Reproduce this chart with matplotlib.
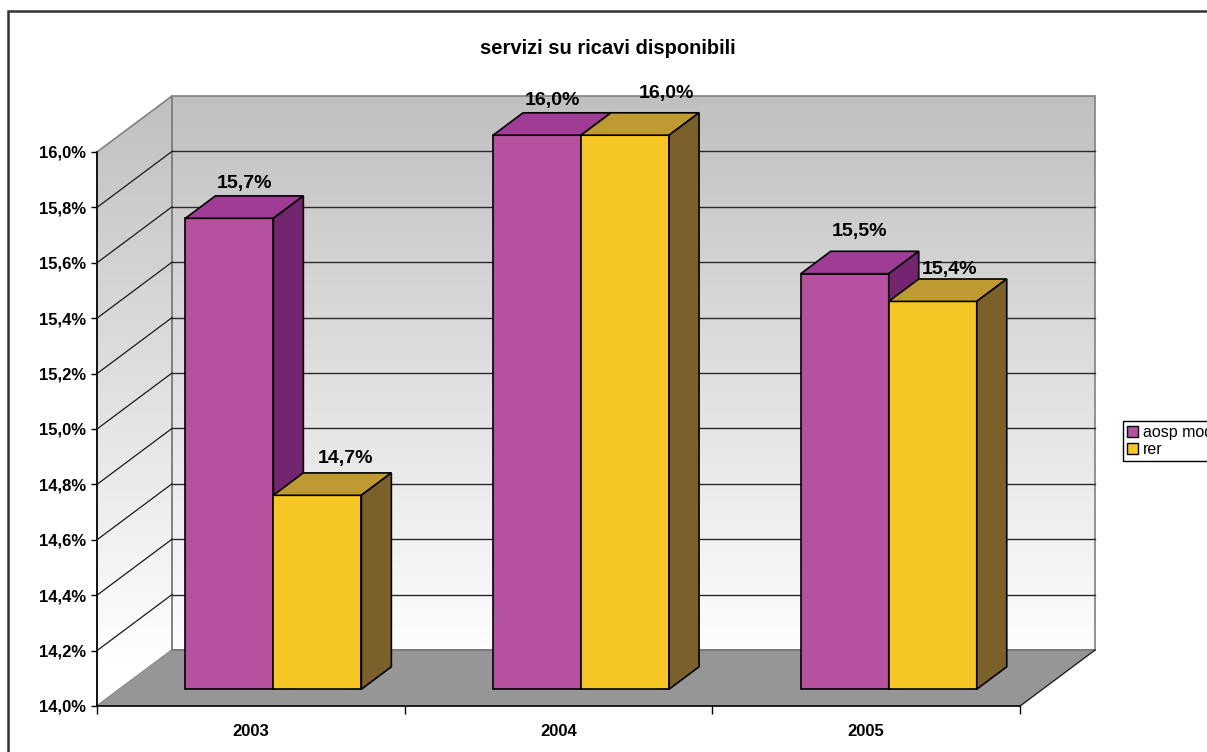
import matplotlib
matplotlib.use("Agg")
import matplotlib.pyplot as plt
import numpy as np
from matplotlib.patches import Polygon, Rectangle, Patch
from matplotlib.colors import LinearSegmentedColormap

plt.rcParams['font.family'] = ['Liberation Sans', 'DejaVu Sans']

# data
YEARS = ["2003", "2004", "2005"]
SERIES = ["aosp modena", "rer"]
AOSP = [15.7, 16.0, 15.5]
RER = [14.7, 16.0, 15.4]
YMIN, YMAX, YSTEP = 14.0, 16.0, 0.2

# pixel geometry -> data units
W_PX, H_PX = 1207, 752
X0_PX, CAT_PX = 97, 307.7          # front plane: category 0 starts at x=97px
Y0_PX, PCT_PX = 706, 277.0         # 14.0% at y=706px, 277 px per 1%
DX = 75 / CAT_PX                   # depth offset in x
DY = 56 / PCT_PX                   # depth offset in y
BW = 88 / CAT_PX                   # bar width
F0, F1 = 0.3, 0.7                  # bar depth span
PXX = 1 / CAT_PX
PXY = 1 / PCT_PX

fig = plt.figure(figsize=(W_PX / 100, H_PX / 100), dpi=100)
ax = fig.add_axes([0, 0, 1, 1])
ax.set_xlim(-X0_PX / CAT_PX, (W_PX - X0_PX) / CAT_PX)
ax.set_ylim(YMIN - (H_PX - Y0_PX) / PCT_PX, YMIN + Y0_PX / PCT_PX)
ax.patch.set_visible(False)
ncat = len(YEARS)

# walls with vertical gradient
cmap = LinearSegmentedColormap.from_list("wall", ["#ffffff", "#c0c0c0"])
grad = np.linspace(0, 1, 256).reshape(-1, 1)
back = Polygon([(DX, YMIN + DY), (ncat + DX, YMIN + DY), (ncat + DX, YMAX + DY), (DX, YMAX + DY)],
               closed=True, facecolor="none", edgecolor="#808080", lw=1.2, zorder=2)
side = Polygon([(0, YMIN), (DX, YMIN + DY), (DX, YMAX + DY), (0, YMAX)],
               closed=True, facecolor="none", edgecolor="#808080", lw=1.2, zorder=2)
for poly in (back, side):
    ax.add_patch(poly)
    im = ax.imshow(grad, cmap=cmap, origin="lower", aspect="auto",
                   extent=[0, ncat + DX, YMIN + 0.15, YMAX + DY], zorder=1)
    im.set_clip_path(poly)

# gridlines
levels = np.round(np.arange(YMIN + YSTEP, YMAX + 1e-9, YSTEP), 1)
for v in levels[:-1]:
    ax.plot([DX, ncat + DX], [v + DY, v + DY], color="#2a2a2a", lw=1.0, zorder=3)
    ax.plot([0, DX], [v, v + DY], color="#1a1a1a", lw=0.9, zorder=3)

# floor
floor = Polygon([(0, YMIN), (ncat, YMIN), (ncat + DX, YMIN + DY), (DX, YMIN + DY)],
                closed=True, facecolor="#969696", edgecolor="none", zorder=4)
ax.add_patch(floor)
ax.plot([DX, ncat + DX], [YMIN + DY, YMIN + DY], color="#777777", lw=1.2, zorder=4)
ax.plot([ncat, ncat + DX], [YMIN, YMIN + DY], color="#222222", lw=1.0, zorder=4)

# bars
COLORS = [("#b5519f", "#a03c96", "#73256f"), ("#f5c624", "#bf9a31", "#7b6129")]
LABEL_NUDGE = [[(0, 0), (13, 2)], [(0, 0), (26, 7)], [(0, 8), (2, -3)]]
z = 10
for i in range(ncat):
    for s, vals in enumerate([AOSP, RER]):
        v = vals[i]
        front, top, sidec = COLORS[s]
        xl = i + 0.5 - BW + s * BW
        ax.bar(xl + F0 * DX, v - YMIN, bottom=YMIN + F0 * DY, width=BW, align="edge",
               color=front, edgecolor="black", linewidth=1.2, zorder=z)
        xr = xl + BW
        ax.add_patch(Polygon([(xl + F0 * DX, v + F0 * DY), (xr + F0 * DX, v + F0 * DY),
                              (xr + F1 * DX, v + F1 * DY), (xl + F1 * DX, v + F1 * DY)],
                             closed=True, facecolor=top, edgecolor="black", lw=1.2, zorder=z + 1))
        ax.add_patch(Polygon([(xr + F0 * DX, YMIN + F0 * DY), (xr + F1 * DX, YMIN + F1 * DY),
                              (xr + F1 * DX, v + F1 * DY), (xr + F0 * DX, v + F0 * DY)],
                             closed=True, facecolor=sidec, edgecolor="black", lw=1.2, zorder=z + 1))
        ndx, ndy = LABEL_NUDGE[i][s]
        ax.text(xl + BW / 2 + 0.5 * DX + ndx * PXX, v + F1 * DY + (12 + ndy) * PXY,
                f"{v:.1f}%".replace(".", ","), ha="center", va="center",
                fontsize=14, fontweight="bold", zorder=50)
        z += 3

# axes via spines
for sp in ("top", "right"):
    ax.spines[sp].set_visible(False)
ax.spines["left"].set_position(("data", 0))
ax.spines["left"].set_bounds(YMIN, YMAX)
ax.spines["bottom"].set_position(("data", YMIN))
ax.spines["bottom"].set_bounds(0, ncat)
for sp in ("left", "bottom"):
    ax.spines[sp].set_color("black")
    ax.spines[sp].set_linewidth(1.2)
    ax.spines[sp].set_zorder(5)

yt = np.round(np.arange(YMIN, YMAX + 1e-9, YSTEP), 1)
ax.set_yticks(yt)
ax.set_yticklabels([f"{v:.1f}%".replace(".", ",") for v in yt], fontsize=12, fontweight="bold")
ax.tick_params(axis="y", direction="out", length=4.5, width=1, pad=3.5)
ax.set_xticks(range(ncat + 1))
ax.set_xticklabels([])
ax.set_xticks([i + 0.5 for i in range(ncat)], minor=True)
ax.set_xticklabels(YEARS, minor=True, fontsize=12, fontweight="bold")
ax.tick_params(axis="x", which="major", direction="out", length=6, width=1)
ax.tick_params(axis="x", which="minor", length=0, pad=13)

# title
fig.text(608 / W_PX, 1 - 48 / H_PX, "servizi su ricavi disponibili", ha="center", va="center",
         fontsize=14.5, fontweight="bold")

# legend
handles = [Patch(facecolor=COLORS[k][0], edgecolor="black", linewidth=1.0) for k in range(2)]
fig.legend(handles, SERIES, loc="upper left", bbox_to_anchor=(1123 / W_PX, 1 - 421 / H_PX),
           fontsize=11.5, frameon=True, fancybox=False, edgecolor="black", framealpha=1,
           handlelength=0.7, handleheight=0.7, handletextpad=0.3, borderpad=0.25,
           labelspacing=0.15, borderaxespad=0)

# outer chart border
fig.add_artist(Rectangle((8 / W_PX, -0.1), 1.2, 1.1 - 11 / H_PX, transform=fig.transFigure,
                         fill=False, edgecolor="#333333", lw=1.8))

fig.savefig("out.png", dpi=100)
